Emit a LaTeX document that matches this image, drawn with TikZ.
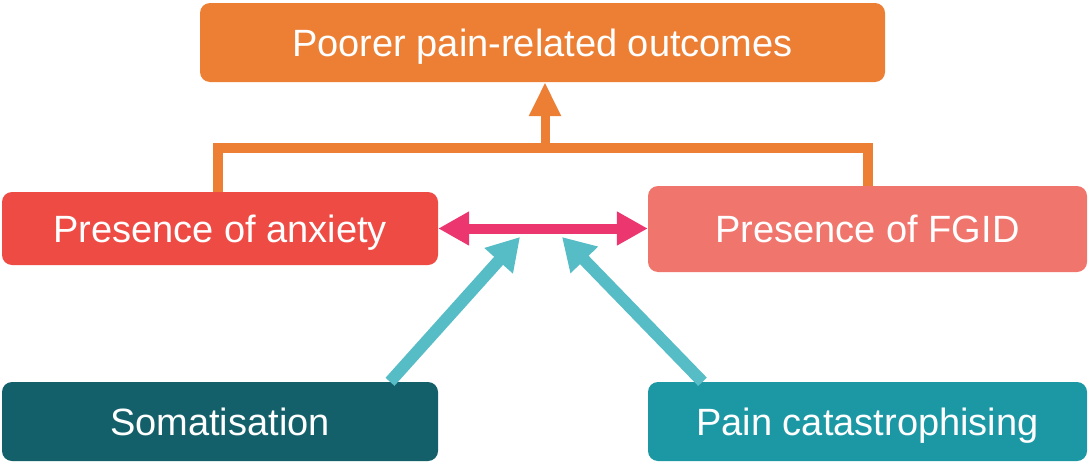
\documentclass[tikz,border=0pt]{standalone}
\usepackage{fontspec}
\setmainfont{Liberation Sans}
\usetikzlibrary{arrows.meta}
\definecolor{outorange}{HTML}{ED7F35}
\definecolor{anxred}{HTML}{EE4B45}
\definecolor{fgidpink}{HTML}{F0756D}
\definecolor{somteal}{HTML}{14606A}
\definecolor{catteal}{HTML}{1C98A5}
\definecolor{linkcyan}{HTML}{56BCC6}
\definecolor{linkpink}{HTML}{EC3670}

\begin{document}
\begin{tikzpicture}[x=1pt, y=-1pt,
    box/.style={rounded corners=10pt, text=white, inner sep=0pt,
                text height=27pt, text depth=0pt,
                font=\fontsize{38}{40}\selectfont},
    bracket/.style={draw=outorange, line width=10pt},
    cyanlink/.style={draw=linkcyan, line width=12pt, -{Triangle[width=36pt,length=32pt]}}]
					\useasboundingbox (0,0) rectangle (1089,463);
					\node[box, fill=outorange, minimum width=685pt, minimum height=79pt] (out) at (542.5,42.5) {Poorer pain-related outcomes};
					\node[box, fill=anxred, minimum width=436pt, minimum height=73pt] (anx) at (220,228.5) {Presence of anxiety};
					\node[box, fill=fgidpink, minimum width=439pt, minimum height=86pt] (fgid) at (867.5,229) {Presence of FGID};
					\node[box, fill=somteal, minimum width=436pt, minimum height=79pt] (som) at (220,421.5) {Somatisation};
					\node[box, fill=catteal, minimum width=439pt, minimum height=79pt] (cat) at (867.5,421.5) {Pain catastrophising};
					\coordinate (jl) at (218,148);
					\coordinate (jr) at (868,148);
					\coordinate (jm) at (545,148);
					\coordinate (tl) at (520,237);
					\coordinate (tr) at (562,237);
					\draw[bracket] (anx.north -| jl) -- (jl) -- (jr) -- (fgid.north -| jr);
					\draw[bracket, line width=9pt, -{Triangle[width=30pt,length=34pt]}] ([yshift=5pt]jm) -- (out.south -| jm);
					\draw[draw=linkpink, line width=10pt, {Triangle[width=32pt,length=31pt]}-{Triangle[width=32pt,length=31pt]}] (anx.east) -- (anx.east -| fgid.west);
					\draw[cyanlink] ([xshift=170pt]som.north) -- (tl);
					\draw[cyanlink] ([xshift=-165pt]cat.north) -- (tr);
				\end{tikzpicture}
\end{document}
